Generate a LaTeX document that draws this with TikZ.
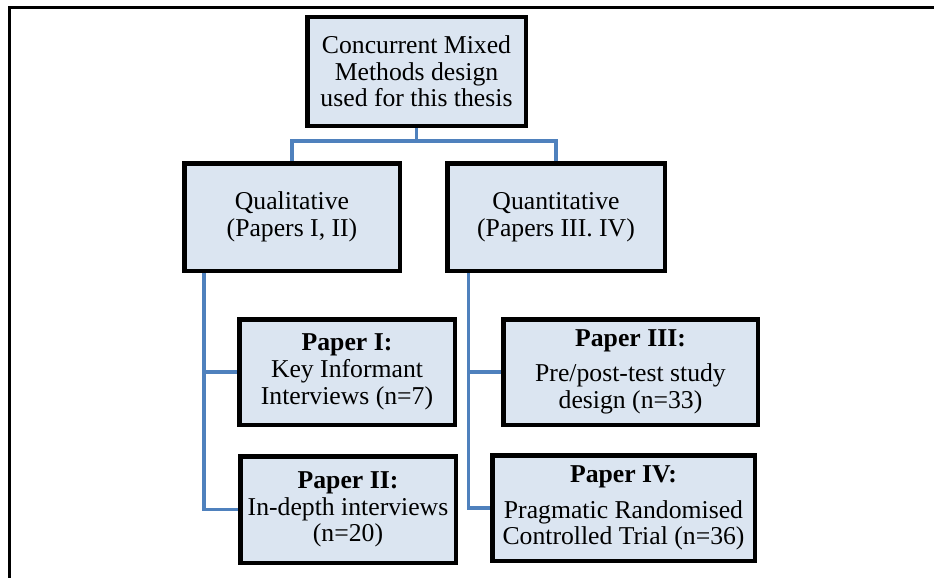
\documentclass[tikz,border=0pt]{standalone}
\usepackage{fontspec}
\setmainfont{Liberation Serif}
\definecolor{boxfill}{HTML}{DBE5F1}
\definecolor{linkblue}{HTML}{4F81BD}
\newcommand{\boxfont}{\fontsize{25.7}{26.7}\selectfont}
\begin{document}
\begin{tikzpicture}[x=1pt,y=-1pt,
  box/.style={draw=black, line width=4.5pt, fill=boxfill, align=center,
    inner sep=0pt, font=\boxfont, rectangle},
  link/.style={draw=linkblue, line width=3.8pt},
  frame/.style={draw=black, line width=3.5pt}]
\useasboundingbox (0,0) rectangle (934,578);

% outer frame (top and left sides)
\draw[frame] (9.5,578) -- (9.5,7.5) -- (934,7.5);

% boxes
\node[box, minimum width=218.5pt, minimum height=108.5pt] (top) at (416.5,71.5)
  {Concurrent Mixed\\Methods design\\used for this thesis};
\node[box, minimum width=215.5pt, minimum height=107.5pt] (qual) at (292,217)
  {Qualitative\\(Papers I, II)};
\node[box, minimum width=217.5pt, minimum height=107.5pt] (quan) at (556,217)
  {Quantitative\\(Papers III. IV)};
\node[box, minimum width=215.5pt, minimum height=105.5pt] (p1) at (347,372)
  {\textbf{Paper I:}\\Key Informant\\Interviews (n=7)};
\node[box, minimum width=215.5pt, minimum height=106.5pt] (p2) at (348,509.5)
  {\textbf{Paper II:}\\In-depth interviews\\(n=20)};
\node[box, minimum width=254.5pt, minimum height=105.5pt] (p3) at (630.5,372)
  {\textbf{Paper III:}\\[8pt]Pre/post-test study\\design (n=33)};
\node[box, minimum width=262.5pt, minimum height=105.5pt] (p4) at (623.5,508)
  {\textbf{Paper IV:}\\[9pt]Pragmatic Randomised\\Controlled Trial (n=36)};

% junction points
\coordinate (bus) at (416.5,140.7);
\coordinate (qspine) at (204,273);
\coordinate (nspine) at (468.5,273);

% connectors
\draw[link] (top.south) -- (bus) -| (qual.north);
\draw[link] (bus) -| (quan.north);
\draw[link] (qual.south -| qspine) |- (p2.west);
\draw[link] (qspine |- p1.west) -- (p1.west);
\draw[link] (quan.south -| nspine) |- (p4.west);
\draw[link] (nspine |- p3.west) -- (p3.west);
\end{tikzpicture}
\end{document}
